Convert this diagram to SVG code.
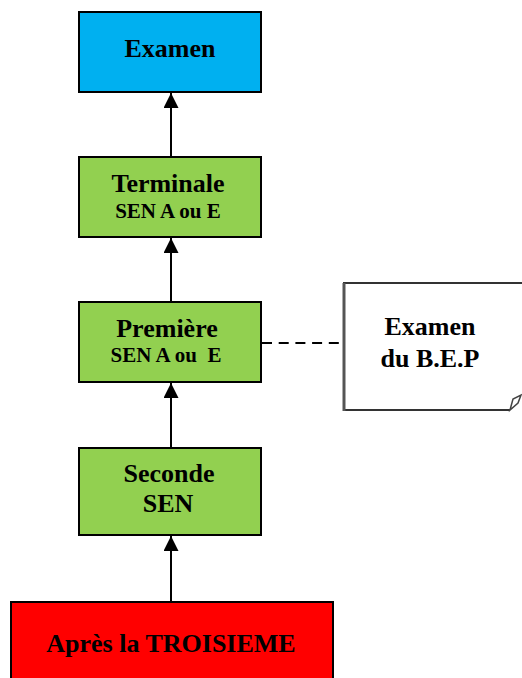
<svg xmlns="http://www.w3.org/2000/svg" width="522" height="678" viewBox="0 0 522 678">
<defs>
<style>
.box{stroke:#000;stroke-width:2}
.t{font-family:"Liberation Serif","Times New Roman",serif;font-weight:bold;fill:#000;text-anchor:middle}
.big{font-size:26px}
.small{font-size:21px}
.conn{stroke:#000;stroke-width:2;fill:none}
</style>
<marker id="ah" viewBox="0 0 15 15" markerWidth="15" markerHeight="15" refX="15" refY="7.5" orient="auto" markerUnits="userSpaceOnUse">
<path d="M0,0 L15,7.5 L0,15 z" fill="#000"/>
</marker>
</defs>
<rect width="522" height="678" fill="#fff"/>
<g id="connectors">
<line class="conn" x1="171" y1="157" x2="171" y2="93" marker-end="url(#ah)"/>
<line class="conn" x1="171" y1="302" x2="171" y2="238" marker-end="url(#ah)"/>
<line class="conn" x1="171" y1="448" x2="171" y2="383" marker-end="url(#ah)"/>
<line class="conn" x1="171" y1="602" x2="171" y2="536" marker-end="url(#ah)"/>
<line class="conn" x1="262" y1="343" x2="344" y2="343" stroke-width="2.5" stroke-dasharray="10,6.7"/>
</g>
<g id="examen">
<rect class="box" x="79" y="12" width="182" height="80" fill="#00B0F0"/>
<text class="t big" x="170" y="57">Examen</text>
</g>
<g id="terminale">
<rect class="box" x="79" y="157" width="182" height="80" fill="#92D050"/>
<text class="t big" x="168" y="192">Terminale</text>
<text class="t small" x="168" y="218">SEN A ou E</text>
</g>
<g id="premiere">
<rect class="box" x="79" y="302" width="182" height="80" fill="#92D050"/>
<text class="t big" x="167" y="337">Première</text>
<text class="t small" x="166" y="362" xml:space="preserve">SEN A ou  E</text>
</g>
<g id="seconde">
<rect class="box" x="79" y="448" width="182" height="87" fill="#92D050"/>
<text class="t big" x="169" y="482">Seconde</text>
<text class="t big" x="168" y="512">SEN</text>
</g>
<g id="troisieme">
<rect class="box" x="11" y="602" width="322" height="90" fill="#FF0000"/>
<text class="t big" x="171" y="652">Après la TROISIEME</text>
</g>
<g id="bep">
<path d="M525,283 L344,283 L344,410 L525,410 Z" fill="#fff" stroke="none"/>
<path d="M525,283 L344,283 L344,410 L510,410" fill="none" stroke="#333" stroke-width="2"/>
<line x1="344" y1="283" x2="344" y2="411" stroke="#555" stroke-width="3"/>
<path d="M510,410 L513,399 L521,395 L518,403 Z" fill="#fff" stroke="#444" stroke-width="1.5"/>
<text class="t big" x="430" y="335">Examen</text>
<text class="t big" x="430" y="367">du B.E.P</text>
</g>
</svg>
